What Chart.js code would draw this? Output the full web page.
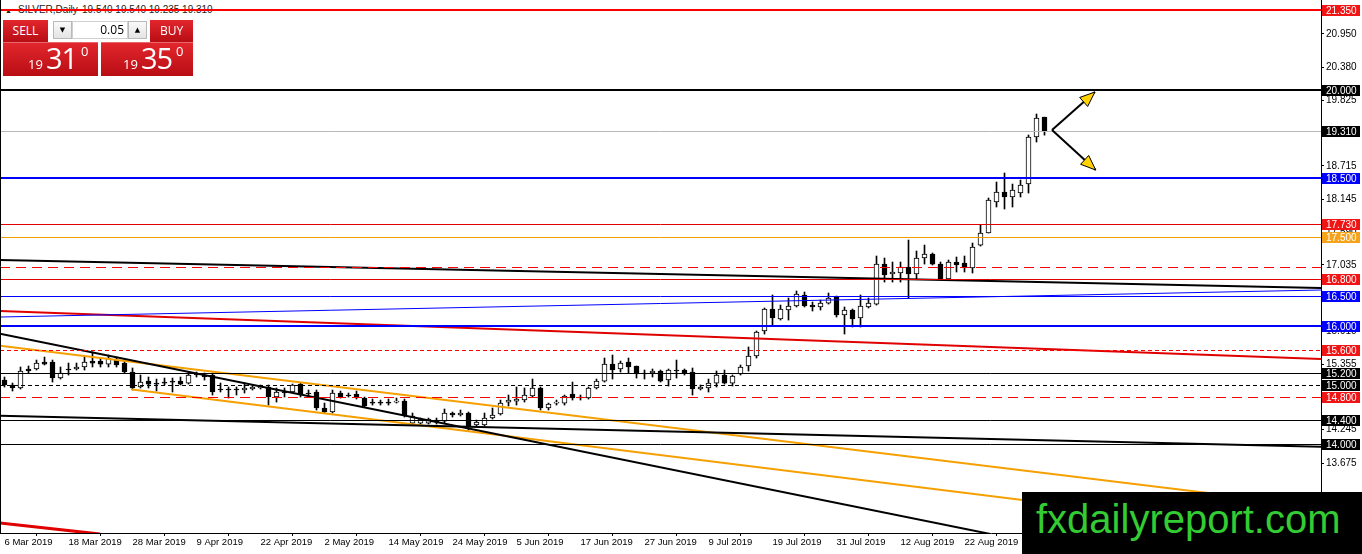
<!DOCTYPE html>
<html><head><meta charset="utf-8">
<script src="https://cdn.jsdelivr.net/npm/chart.js@4.4.1/dist/chart.umd.min.js"></script>
<style>
html,body{margin:0;padding:0;background:#fff;}
#wrap{position:relative;width:1362px;height:554px;overflow:hidden;font-family:"Liberation Sans",Arial,sans-serif;}
#c{position:absolute;left:0;top:0;z-index:1;}
.hdr{position:absolute;top:5px;font-size:10px;line-height:10px;color:#222;z-index:0;white-space:pre;}
#panel{position:absolute;left:0;top:0;z-index:2;}
#panel div{position:absolute;box-sizing:border-box;}
.red{background:linear-gradient(#e2262d,#b80d14);}
.btn{color:#fff;font:12px/21px "Open Sans",sans-serif;text-align:center;}
.spin{background:linear-gradient(#fafafa,#e4e4e4);border:1px solid #b9b9b9;font:7px/16px "DejaVu Sans",sans-serif;text-align:center;color:#000;}
#panel span{position:absolute;color:#fff;font-family:"Open Sans",sans-serif;white-space:pre;}
.s{font-size:13px;line-height:13px;}
.b{font-size:29px;line-height:29px;letter-spacing:-1px;}
#logo{position:absolute;left:1022px;top:492px;width:340px;height:62px;background:#000;z-index:3;}
#logo span{position:absolute;left:14px;top:7px;font:40px/40px "Liberation Sans",Arial,sans-serif;color:#33cc33;white-space:pre;}
</style></head>
<body>
<div id="wrap">
  <div class="hdr" style="left:5px;font-size:7px;top:6px;">▲</div>
  <div class="hdr" style="left:18px;">SILVER,Daily</div>
  <div class="hdr" style="left:82px;">19.540 19.540 19.235 19.310</div>
  <canvas id="c" width="1362" height="554" style="width:1362px;height:554px"></canvas>
  <div id="panel">
    <div class="red btn" style="left:3px;top:20px;width:45px;height:22px;">SELL</div>
    <div class="spin" style="left:53px;top:21px;width:19px;height:18px;">▼</div>
    <div style="left:72px;top:21px;width:56px;height:18px;background:#fff;border:1px solid #cfcfcf;font:12px/16px 'Open Sans',sans-serif;text-align:right;padding-right:3px;color:#000;">0.05</div>
    <div class="spin" style="left:128px;top:21px;width:19px;height:18px;">▲</div>
    <div class="red btn" style="left:150px;top:20px;width:43px;height:22px;">BUY</div>
    <div class="red" style="left:3px;top:42px;width:95px;height:34px;border-top:1px solid #e8676b;"></div>
    <div class="red" style="left:101px;top:42px;width:92px;height:34px;border-top:1px solid #e8676b;"></div>
    <span class="s" style="left:28px;top:58px;">19</span>
    <span class="b" style="left:46px;top:43px;">31</span>
    <span class="s" style="left:81px;top:45px;">0</span>
    <span class="s" style="left:123px;top:58px;">19</span>
    <span class="b" style="left:141px;top:43px;">35</span>
    <span class="s" style="left:176px;top:45px;">0</span>
  </div>
  <div id="logo"><span>fxdailyreport.com</span></div>
</div>
<script>
// ---- candle data (SILVER daily) ----
const opens = [
15.084,15.000,14.949,15.271,15.271,15.389,15.389,15.118,15.271,15.271,
15.305,15.406,15.406,15.355,15.423,15.372,15.220,14.966,15.067,15.033,
15.050,15.067,15.067,15.033,15.186,15.169,15.169,14.932,14.932,14.932,
14.915,14.932,14.949,14.966,14.796,14.881,14.881,15.016,14.864,14.881,
14.610,14.542,14.864,14.830,14.847,14.779,14.711,14.711,14.711,14.711,
14.728,14.355,14.355,14.355,14.406,14.389,14.525,14.491,14.525,14.322,
14.322,14.440,14.508,14.711,14.728,14.745,14.813,14.949,14.610,14.694,
14.694,14.847,14.796,14.779,14.949,15.067,15.355,15.271,15.389,15.322,
15.203,15.203,15.237,15.084,15.254,15.254,15.220,14.932,14.949,15.033,
15.169,15.033,15.186,15.322,15.491,15.915,16.288,16.118,16.271,16.339,
16.525,16.355,16.322,16.389,16.491,16.186,16.271,16.135,16.322,16.372,
17.050,16.881,16.898,17.000,16.881,17.152,17.220,17.050,16.796,17.084,
17.067,16.983,17.372,17.576,18.101,18.271,18.186,18.254,18.406,19.203,
19.540];
const highs = [
15.135,15.033,15.305,15.322,15.423,15.474,15.423,15.305,15.372,15.372,
15.474,15.559,15.457,15.508,15.474,15.423,15.288,15.169,15.135,15.101,
15.118,15.118,15.135,15.220,15.220,15.203,15.203,15.033,14.966,14.966,
15.033,15.000,15.000,15.000,14.949,14.949,15.016,15.033,14.915,14.915,
14.694,14.915,14.898,14.864,14.898,14.796,14.762,14.745,14.762,14.779,
14.762,14.525,14.440,14.440,14.440,14.593,14.542,14.576,14.542,14.406,
14.525,14.610,14.745,14.830,14.966,14.949,15.101,14.966,14.694,14.745,
14.830,15.050,14.830,14.966,15.101,15.457,15.508,15.406,15.457,15.322,
15.254,15.271,15.254,15.271,15.423,15.271,15.288,15.000,15.101,15.237,
15.254,15.169,15.339,15.644,15.915,16.305,16.525,16.355,16.474,16.593,
16.576,16.406,16.440,16.559,16.508,16.322,16.288,16.525,16.474,17.186,
17.152,17.084,17.084,17.457,17.271,17.372,17.237,17.084,17.118,17.169,
17.186,17.406,17.711,18.169,18.440,18.593,18.406,18.474,19.237,19.593,
19.540];
const lows = [
14.966,14.898,14.932,15.203,15.254,15.339,15.050,15.101,15.169,15.254,
15.254,15.305,15.305,15.305,15.305,15.203,14.915,14.949,14.949,14.898,
15.000,14.881,15.000,15.016,15.135,15.084,14.830,14.881,14.779,14.830,
14.864,14.915,14.932,14.660,14.711,14.796,14.864,14.796,14.796,14.576,
14.525,14.525,14.779,14.796,14.762,14.627,14.660,14.660,14.660,14.694,
14.457,14.338,14.338,14.338,14.338,14.355,14.457,14.474,14.237,14.288,
14.305,14.423,14.491,14.644,14.660,14.711,14.796,14.576,14.576,14.660,
14.660,14.745,14.745,14.762,14.932,15.050,15.101,15.220,15.203,15.118,
15.101,15.135,15.050,14.983,15.118,15.169,14.830,14.915,14.881,14.966,
15.016,14.983,15.169,15.237,15.457,15.864,16.000,16.101,16.101,16.322,
16.322,16.254,16.271,16.372,16.152,15.864,15.983,15.983,16.305,16.355,
16.745,16.745,16.745,16.474,16.796,17.050,17.034,16.779,16.779,16.915,
16.915,16.898,17.355,17.576,18.017,17.983,18.017,18.186,18.254,19.118,
19.235];
const closes = [
15.000,14.949,15.237,15.237,15.372,15.355,15.118,15.203,15.254,15.305,
15.389,15.372,15.355,15.457,15.339,15.220,14.949,15.050,15.016,15.016,
15.033,15.050,15.016,15.169,15.169,15.135,14.881,14.915,14.915,14.915,
14.949,14.966,14.966,14.796,14.881,14.864,15.000,14.830,14.847,14.610,
14.542,14.864,14.796,14.813,14.796,14.644,14.694,14.694,14.694,14.728,
14.491,14.474,14.423,14.423,14.372,14.525,14.491,14.525,14.288,14.372,
14.440,14.491,14.694,14.745,14.762,14.830,14.949,14.610,14.677,14.711,
14.813,14.779,14.779,14.949,15.067,15.355,15.254,15.372,15.305,15.186,
15.186,15.237,15.067,15.254,15.237,15.203,14.932,14.966,15.033,15.169,
15.033,15.152,15.305,15.491,15.898,16.288,16.135,16.288,16.339,16.542,
16.339,16.322,16.389,16.474,16.186,16.271,16.118,16.339,16.389,17.050,
16.864,16.915,17.000,16.881,17.152,17.220,17.050,16.796,17.084,17.034,
16.983,17.339,17.576,18.135,18.271,18.186,18.305,18.389,19.203,19.525,
19.310];

// ---- axes ----
const tickIdx = [0,8,16,24,32,40,48,56,64,72,80,88,96,104,112,120];
const tickLabels = ['6 Mar 2019','18 Mar 2019','28 Mar 2019','9 Apr 2019','22 Apr 2019','2 May 2019',
  '14 May 2019','24 May 2019','5 Jun 2019','17 Jun 2019','27 Jun 2019','9 Jul 2019','19 Jul 2019',
  '31 Jul 2019','12 Aug 2019','22 Aug 2019'];
const yTickVals = [20.950,20.380,19.825,19.255,18.715,18.145,17.590,17.035,16.465,15.910,15.355,14.800,14.245,13.675,13.105];
const xMin = -0.5625, xMax = 164.5625;
const yMin = 12.4915, yMax = 21.5254;

// ---- horizontal levels ----
const levelPrices = [21.35,20.0,19.31,18.5,17.73,17.5,17.0,16.8,16.5,16.0,15.6,15.2,15.0,14.8,14.4,14.0];
const levelColors = ['#ff0000','#000000','#b8b8b8','#0000ff','#e00000','#f29d00','#ff0000','#e00000','#0000ff','#0000ff','#ff0000','#000000','#000000','#ff0000','#000000','#000000'];
const levelWidths = [2,2,1,2,1,1,1,1,1,2,1,1,1,1,1,1];
const levelDashes = [[],[],[],[],[],[],[10,6],[],[],[],[4,3],[],[4,3],[10,6],[],[]];
const levelBoxes  = ['#f01414','#000000','#000000','#0000ff','#f01414','#f7a21b',null,'#f01414','#0000ff','#0000ff','#f01414','#000000','#000000','#f01414','#000000','#000000'];

// ---- trend lines (bar index, price) ----
const trendFrom = [[-0.5625,17.118],[-0.5625,16.152],[-0.5625,16.254],[-0.5625,15.867],[-0.5625,14.479],[-0.5625,15.667],[15.94,14.923],[-0.5625,12.661]];
const trendTo   = [[164.5625,16.642],[164.5625,16.610],[164.5625,15.440],[136.9,12.100],[164.5625,13.952],[164.5625,12.935],[164.5625,12.423],[11.94,12.473]];
const trendColors = ['#000000','#0000ff','#e00000','#000000','#000000','#f5a000','#f5a000','#e00000'];
const trendWidths = [2,1,2,2,2,2,2,3];

// ---- arrows ----
const arrowVertex = [130.94,19.322];
const arrowTips = [[136.3,19.966],[136.4,18.644]];

const idx = opens.map((_,i)=>i);
const bodyData = idx.map(i=>({x:i,y:[Math.min(opens[i],closes[i]),Math.max(opens[i],closes[i])]}));
const wickData = idx.map(i=>({x:i,y:[lows[i],highs[i]]}));
const bull = i => closes[i] > opens[i];

const datasets = [
  {type:'bar',data:bodyData,barThickness:5,grouped:false,order:1,
   backgroundColor:c=>bull(c.dataIndex)?'#ffffff':'#000000',borderColor:'#000000',borderWidth:1,borderSkipped:false,minBarLength:1},
  {type:'bar',data:wickData,barThickness:1,grouped:false,order:2,backgroundColor:'#000000',borderWidth:0}
].concat(trendFrom.map((f,k)=>({
  type:'line',data:[{x:f[0],y:f[1]},{x:trendTo[k][0],y:trendTo[k][1]}],
  borderColor:trendColors[k],borderWidth:trendWidths[k],pointRadius:0,tension:0,order:0,fill:false
})));

function head(ctx,x0,y0,x1,y1){
  const a=Math.atan2(y1-y0,x1-x0), L=15, W=6;
  const bx=x1-L*Math.cos(a), by=y1-L*Math.sin(a);
  ctx.beginPath();
  ctx.moveTo(x1,y1);
  ctx.lineTo(bx+W*Math.sin(a),by-W*Math.cos(a));
  ctx.lineTo(bx-W*Math.sin(a),by+W*Math.cos(a));
  ctx.closePath();
  ctx.fillStyle='#ffd200';ctx.fill();
  ctx.lineWidth=1;ctx.strokeStyle='#000';ctx.stroke();
}

const overlay = {
  id:'overlay',
  afterDatasetsDraw(chart){
    const {ctx,chartArea:a,scales:{x,y}}=chart;
    ctx.save();
    ctx.beginPath();ctx.rect(a.left,a.top,a.right-a.left,a.bottom-a.top);ctx.clip();
    levelPrices.forEach((p,k)=>{
      let py=y.getPixelForValue(p);
      py = levelWidths[k]%2 ? Math.round(py)+0.5 : Math.round(py);
      ctx.beginPath();
      ctx.setLineDash(levelDashes[k]);
      ctx.strokeStyle=levelColors[k];ctx.lineWidth=levelWidths[k];
      ctx.moveTo(a.left,py);ctx.lineTo(a.right,py);ctx.stroke();
    });
    ctx.setLineDash([]);
    const vx=x.getPixelForValue(arrowVertex[0]), vy=y.getPixelForValue(arrowVertex[1]);
    arrowTips.forEach(t=>{
      const tx=x.getPixelForValue(t[0]), ty=y.getPixelForValue(t[1]);
      ctx.beginPath();ctx.lineWidth=2;ctx.strokeStyle='#000';
      ctx.moveTo(vx,vy);ctx.lineTo(tx,ty);ctx.stroke();
      head(ctx,vx,vy,tx,ty);
    });
    ctx.restore();
  },
  afterDraw(chart){
    const {ctx,chartArea:a,scales:{y}}=chart;
    ctx.save();
    ctx.font='10px "Liberation Sans", Arial, sans-serif';
    ctx.textBaseline='middle';ctx.textAlign='left';
    levelPrices.forEach((p,k)=>{
      if(!levelBoxes[k]) return;
      const py=Math.round(y.getPixelForValue(p));
      ctx.fillStyle=levelBoxes[k];
      ctx.fillRect(a.right+1,py-5,38,11);
      ctx.fillStyle='#ffffff';
      ctx.fillText(p.toFixed(3),a.right+5,py+1);
    });
    ctx.beginPath();ctx.strokeStyle='#000';ctx.lineWidth=1;
    ctx.moveTo(0.5,0);ctx.lineTo(0.5,a.bottom);ctx.stroke();
    ctx.restore();
  }
};

new Chart(document.getElementById('c'),{
  type:'bar',
  data:{datasets},
  options:{
    responsive:false,animation:false,devicePixelRatio:1,
    layout:{padding:0},
    plugins:{legend:{display:false},tooltip:{enabled:false}},
    events:[],
    scales:{
      x:{type:'linear',min:xMin,max:xMax,offset:false,position:'bottom',
        grid:{display:true,drawOnChartArea:false,drawTicks:true,tickLength:3,color:'#000'},
        border:{display:true,color:'#000',width:1},
        afterBuildTicks:s=>{s.ticks=tickIdx.map(v=>({value:v}));},
        afterFit:s=>{s.height=21;s.paddingLeft=0;s.paddingRight=0;},
        ticks:{autoSkip:false,maxRotation:0,minRotation:0,align:'start',padding:1,color:'#000',
          font:{family:'"Liberation Sans", Arial, sans-serif',size:9.5},
          callback:v=>{const k=tickIdx.indexOf(v);return k<0?'':tickLabels[k];}}
      },
      y:{type:'linear',position:'right',min:yMin,max:yMax,
        grid:{display:true,drawOnChartArea:false,drawTicks:true,tickLength:3,color:'#000'},
        border:{display:true,color:'#000',width:1},
        afterBuildTicks:s=>{s.ticks=yTickVals.map(v=>({value:v}));},
        afterFit:s=>{s.width=41;s.paddingTop=0;s.paddingBottom=0;},
        ticks:{crossAlign:'near',padding:2,color:'#000',
          font:{family:'"Liberation Sans", Arial, sans-serif',size:10},
          callback:v=>Number(v).toFixed(3)}
      }
    }
  },
  plugins:[overlay]
});
</script>
</body></html>
